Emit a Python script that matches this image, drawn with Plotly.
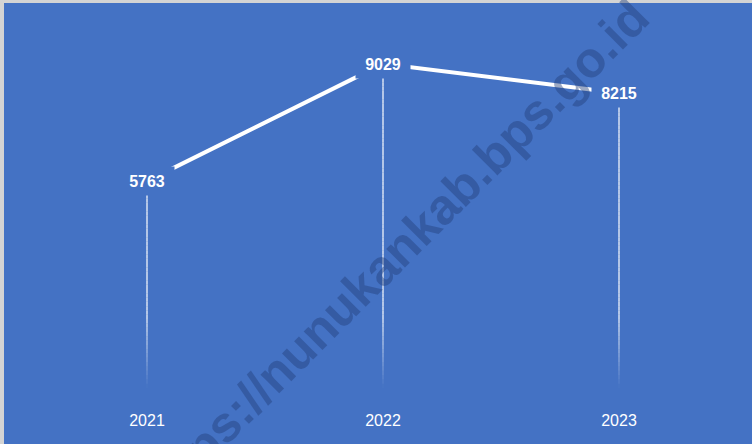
import numpy as np
import plotly.graph_objects as go

years = ["2021", "2022", "2023"]
values = [5763, 9029, 8215]
watermark = "https://nunukankab.bps.go.id"

bg = "#4472C4"

fig = go.Figure()

# fading drop lines from each point down to the axis
step = 120
fade_to = 2000
for lo in np.arange(0, max(values), step):
    hi = lo + step
    xs, ys = [], []
    for yr, v in zip(years, values):
        if v > lo:
            xs += [yr, yr, None]
            ys += [lo, min(hi, v), None]
    alpha = 0.8 * min(1.0, (lo + step / 2) / fade_to)
    fig.add_trace(go.Scatter(x=xs, y=ys, mode="lines",
                             line=dict(color="rgba(255,255,255,%.3f)" % alpha, width=1.5),
                             hoverinfo="skip", showlegend=False))

fig.add_trace(go.Scatter(x=years, y=values, mode="lines",
                         line=dict(color="white", width=4),
                         hoverinfo="skip", showlegend=False))

# data labels sit on the points and hide the line behind them
for i, v in enumerate(values):
    fig.add_annotation(x=i, y=v, text="<b>%d</b>" % v, showarrow=False,
                       bgcolor=bg, width=52, height=26,
                       font=dict(family="Liberation Sans, Arial", size=16, color="white"))

fig.add_annotation(xref="paper", yref="paper", x=0.515, y=0.37,
                   text="<b>%s</b>" % watermark, showarrow=False, textangle=-45,
                   font=dict(family="Liberation Sans, Arial", size=50,
                             color="rgba(35,65,125,0.45)"))

# light gray edge of the slide at top and left
fig.add_shape(type="rect", xref="paper", yref="paper",
              x0=-29 / 708, x1=-25 / 708, y0=-56 / 359, y1=(359 + 29) / 359,
              fillcolor="#D4D4D4", line_width=0, layer="above")
fig.add_shape(type="rect", xref="paper", yref="paper",
              x0=-29 / 708, x1=(708 + 15) / 708, y0=(359 + 26) / 359, y1=(359 + 29) / 359,
              fillcolor="#D4D4D4", line_width=0, layer="above")

fig.update_layout(
    width=752, height=444,
    margin=dict(l=29, r=15, t=29, b=56),
    paper_bgcolor=bg, plot_bgcolor=bg,
    showlegend=False,
    xaxis=dict(type="category", range=[-0.5, 2.5], showgrid=False, zeroline=False,
               showline=False, ticks="outside", ticklen=18, tickcolor="rgba(0,0,0,0)",
               tickfont=dict(family="Liberation Sans, Arial", size=16, color="white")),
    yaxis=dict(range=[0, 10000], visible=False, showgrid=False, zeroline=False),
)

fig.write_html("out.html", config={"displayModeBar": False},
               post_script="document.body.style.margin='0';document.body.style.overflow='hidden';")
